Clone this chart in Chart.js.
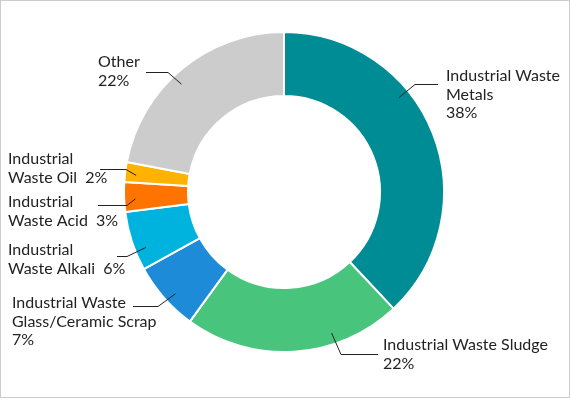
<!DOCTYPE html>
<html>
<head>
<meta charset="utf-8">
<script src="https://cdn.jsdelivr.net/npm/chart.js@4"></script>
<style>
  body { margin: 0; background: #fff; }
  canvas { display: block; }
</style>
</head>
<body>
<canvas id="wasteChart" width="570" height="400"></canvas>
<script>
const categories = [
  'Industrial Waste Metals',
  'Industrial Waste Sludge',
  'Industrial Waste Glass/Ceramic Scrap',
  'Industrial Waste Alkali',
  'Industrial Waste Acid',
  'Industrial Waste Oil',
  'Other'
];
const shares = [38, 22, 7, 6, 3, 2, 22];
const sliceColors = ['#008c94', '#48c47c', '#1e8bd9', '#00b3de', '#ff7300', '#ffb300', '#cccccc'];

// how each label is wrapped and where it sits (layout only)
const labelLayout = [
  { lines: ['Industrial Waste', 'Metals'], inline: false, t: 0.37, elbow: [415, 84], end: [438, 84], x: 446, y: 81 },
  { lines: ['Industrial Waste Sludge'], inline: false, t: 0.31, elbow: [341, 354], end: [378, 354], x: 383, y: 350 },
  { lines: ['Industrial Waste', 'Glass/Ceramic Scrap'], inline: false, t: 0.43, elbow: [158, 306], end: [133, 306], x: 12, y: 308 },
  { lines: ['Industrial', 'Waste Alkali'], inline: true, t: 0.32, elbow: [127, 256], end: [117, 256], x: 8, y: 255 },
  { lines: ['Industrial', 'Waste Acid'], inline: true, t: 0.42, elbow: [127, 205], end: [98, 205], x: 8, y: 207 },
  { lines: ['Industrial', 'Waste Oil'], inline: true, t: 0.39, elbow: [126, 169], end: [100, 169], x: 8, y: 164 },
  { lines: ['Other'], inline: false, t: 0.45, elbow: [168, 72], end: [146, 72], x: 98, y: 67 }
];
const lineHeight = 18.5;

const frameAndLabels = {
  id: 'frameAndLabels',
  beforeDraw(chart) {
    const ctx = chart.ctx;
    ctx.save();
    ctx.strokeStyle = '#cccccc';
    ctx.lineWidth = 1;
    ctx.strokeRect(0.5, 0.5, chart.width - 1, chart.height - 3);
    ctx.restore();
  },
  afterDraw(chart) {
    const ctx = chart.ctx;
    const arcs = chart.getDatasetMeta(0).data;
    ctx.save();
    ctx.font = '16px Lato';
    ctx.fillStyle = '#222';
    ctx.strokeStyle = '#222';
    ctx.lineWidth = 1;
    ctx.textBaseline = 'alphabetic';
    arcs.forEach((arc, i) => {
      const lay = labelLayout[i];
      const p = arc.getProps(['x', 'y', 'startAngle', 'endAngle', 'outerRadius']);
      const a = p.startAngle + lay.t * (p.endAngle - p.startAngle);
      const r = p.outerRadius * 0.93;
      const ax = p.x + Math.cos(a) * r;
      const ay = p.y + Math.sin(a) * r;
      ctx.beginPath();
      ctx.moveTo(ax, ay);
      ctx.lineTo(lay.elbow[0], lay.elbow[1] + 0.5);
      ctx.lineTo(lay.end[0], lay.end[1] + 0.5);
      ctx.stroke();

      const pct = shares[i] + '%';
      const lines = lay.lines.slice();
      if (lay.inline) {
        lines[lines.length - 1] += '  ' + pct;
      } else {
        lines.push(pct);
      }
      lines.forEach((txt, k) => {
        ctx.fillText(txt, lay.x, lay.y + k * lineHeight);
      });
    });
    ctx.restore();
  }
};

new Chart(document.getElementById('wasteChart'), {
  type: 'doughnut',
  data: {
    labels: categories,
    datasets: [{
      data: shares,
      backgroundColor: sliceColors,
      borderColor: '#ffffff',
      borderWidth: 2
    }]
  },
  options: {
    responsive: false,
    animation: false,
    cutout: '60%',
    layout: { padding: { top: 31, bottom: 47, left: 123, right: 125 } },
    plugins: {
      legend: { display: false },
      tooltip: { enabled: false }
    }
  },
  plugins: [frameAndLabels]
});
</script>
</body>
</html>
